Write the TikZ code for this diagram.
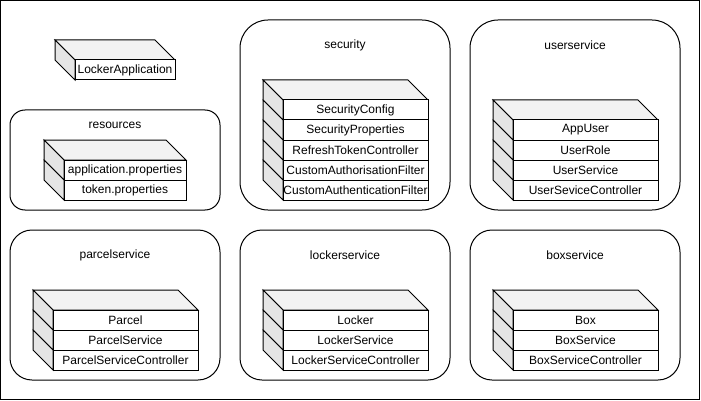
\documentclass[tikz,border=0pt]{standalone}
\usepackage{fontspec}
\setmainfont{Liberation Sans}
\tikzset{
  every picture/.style={x=1pt,y=-1pt},
  ln/.style={line width=1pt, draw=black},
  topface/.style={ln, fill=black!5},
  sideface/.style={ln, fill=black!10},
  rowbox/.style={ln, fill=white, rectangle, minimum height=20pt, inner sep=0pt, font=\fontsize{12}{14}\selectfont},
  container/.style={ln, rectangle, inner sep=0pt},
  lbl/.style={inner sep=0pt, font=\fontsize{12}{14}\selectfont},
}
% #1 name prefix, #2 x back-left, #3 y top, #4 front width, #5 list
\newcommand\cubestack[5]{%
  \filldraw[topface] (#2,#3) -- ++(#4,0) -- ++(20,20) -- ++(-#4,0) -- cycle;
  \foreach \t [count=\k from 0] in {#5} {
    \filldraw[sideface] (#2,#3+20*\k) -- ++(20,20) -- ++(0,20) -- ++(-20,-20) -- cycle;
    \node[rowbox, minimum width=#4pt] (#1-\k) at (#2+20+#4/2, #3+20*\k+30) {\t};
  }%
}
\begin{document}
\begin{tikzpicture}
\useasboundingbox (0,0) rectangle (701,401);
\node[container, minimum width=699pt, minimum height=399pt] (frame) at (350,200) {};
% containers
\node[container, rounded corners=15pt, minimum width=210pt, minimum height=100pt] (resources) at (115,160) {};
\node[container, rounded corners=28pt, minimum width=210pt, minimum height=190pt] (security) at (345,115) {};
\node[container, rounded corners=28pt, minimum width=210pt, minimum height=190pt] (userservice) at (575,115) {};
\node[container, rounded corners=22pt, minimum width=210pt, minimum height=150pt] (parcelservice) at (115,305) {};
\node[container, rounded corners=22pt, minimum width=210pt, minimum height=150pt] (lockerservice) at (345,305) {};
\node[container, rounded corners=22pt, minimum width=210pt, minimum height=150pt] (boxservice) at (575,305) {};
% labels
\node[lbl] (l-res) at (115,125) {resources};
\node[lbl] (l-sec) at (345,45) {security};
\node[lbl] (l-usr) at (575,45) {userservice};
\node[lbl] (l-par) at (115,255) {parcelservice};
\node[lbl] (l-lck) at (345,255) {lockerservice};
\node[lbl] (l-box) at (575,255) {boxservice};
% cubes
\cubestack{app}{55}{40}{100}{LockerApplication}
\cubestack{res}{44}{140}{122}{application.properties,token.properties}
\cubestack{sec}{263}{80}{145}{SecurityConfig,SecurityProperties,RefreshTokenController,CustomAuthorisationFilter,CustomAuthenticationFilter}
\cubestack{usr}{493}{100}{145}{AppUser,UserRole,UserService,UserSeviceController}
\cubestack{par}{33}{290}{145}{Parcel,ParcelService,ParcelServiceController}
\cubestack{lck}{263}{290}{145}{Locker,LockerService,LockerServiceController}
\cubestack{box}{493}{290}{145}{Box,BoxService,BoxServiceController}
\end{tikzpicture}
\end{document}
